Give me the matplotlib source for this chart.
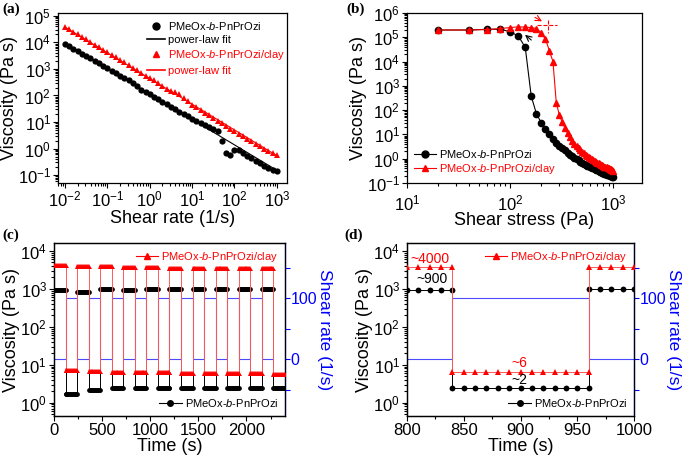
import numpy as np
import matplotlib
matplotlib.use("Agg")
import matplotlib.pyplot as plt
from matplotlib.lines import Line2D
from matplotlib.ticker import LogLocator, NullFormatter, MultipleLocator, FixedLocator

plt.rcParams['font.family'] = ['Liberation Sans', 'DejaVu Sans']
plt.rcParams['mathtext.fontset'] = 'custom'
plt.rcParams['mathtext.rm'] = 'Liberation Sans'
plt.rcParams['mathtext.it'] = 'Liberation Sans:italic'
plt.rcParams['mathtext.bf'] = 'Liberation Sans:bold'
plt.rcParams['axes.linewidth'] = 0.9

NAME = "PMeOx-$\\it{b}$-PnPrOzi"
NAME_CLAY = "PMeOx-$\\it{b}$-PnPrOzi/clay"

# (a) flow sweep, 10 points per decade, log10(viscosity)
rate_a = np.logspace(-2, 3, 51)
logvisc_a_blk = [3.96, 3.87, 3.77, 3.68, 3.58, 3.49, 3.40, 3.30, 3.21, 3.12,
                 3.02, 2.93, 2.84, 2.75, 2.67, 2.58, 2.47, 2.35, 2.22, 2.13,
                 2.04, 1.95, 1.86, 1.76, 1.67, 1.58, 1.48, 1.38, 1.32, 1.22,
                 1.12, 1.05, 0.98, 0.90, 0.80, 0.72, 0.66, 0.30, -0.15, -0.25,
                 -0.05, -0.06, -0.18, -0.28, -0.37, -0.47, -0.56, -0.64, -0.72, -0.80,
                 -0.86]
logvisc_a_red = [4.60, 4.50, 4.41, 4.31, 4.21, 4.12, 4.02, 3.92, 3.83, 3.73,
                 3.63, 3.54, 3.44, 3.34, 3.25, 3.15, 3.05, 2.95, 2.86, 2.75,
                 2.66, 2.57, 2.46, 2.37, 2.26, 2.17, 2.12, 2.05, 1.90, 1.78,
                 1.66, 1.55, 1.45, 1.35, 1.25, 1.15, 1.05, 0.95, 0.85, 0.75,
                 0.65, 0.56, 0.46, 0.37, 0.27, 0.18, 0.09, 0.00, -0.08, -0.17,
                 -0.25]
fit_rate = [0.01, 1000]
fit_blk = [9.5e3, 0.151]
fit_red = [3.8e4, 0.54]

# (b) stress sweep
stress_b = np.arange(20, 1001, 20)
logvisc_b_blk = [5.30, 5.30, 5.33, 5.33, 5.23, 5.05, 4.59, 2.58, 1.84, 1.49,
                 1.23, 1.01, 0.82, 0.66, 0.52, 0.43, 0.34, 0.25, 0.17, 0.10,
                 0.04, -0.02, -0.07, -0.12, -0.16, -0.20, -0.24, -0.28, -0.31, -0.34,
                 -0.37, -0.40, -0.43, -0.46, -0.48, -0.51, -0.53, -0.55, -0.57, -0.59,
                 -0.61, -0.63, -0.65, -0.67, -0.68, -0.70, -0.71, -0.73, -0.74, -0.75]
logvisc_b_red = [5.30, 5.30, 5.32, 5.36, 5.40, 5.43, 5.42, 5.40, 5.36, 5.18,
                 4.92, 4.45, 4.00, 2.30, 1.80, 1.50, 1.25, 1.05, 0.88, 0.74,
                 0.62, 0.52, 0.43, 0.35, 0.28, 0.22, 0.16, 0.11, 0.06, 0.02,
                 -0.02, -0.06, -0.10, -0.13, -0.16, -0.19, -0.22, -0.25, -0.27, -0.30,
                 -0.32, -0.34, -0.36, -0.38, -0.40, -0.42, -0.44, -0.46, -0.47, -0.49]

# (c)/(d) step test: 120 s blocks, alternating rest / 100 1/s, sampled every 10 s
block_start = np.arange(0, 2400, 120)
visc_red_block = [4300, 7.1, 4000, 6.7, 3900, 6.6, 3700, 6.4, 3700, 6.3,
                  3600, 6.2, 3600, 6.1, 3500, 6.0, 3500, 6.0, 3500, 5.8]
visc_blk_block = [930, 1.75, 850, 2.15, 980, 2.4, 960, 2.4, 1000, 2.45,
                  980, 2.4, 970, 2.4, 1020, 2.5, 1020, 2.45, 1000, 2.45]
shear_t = [0, 120, 240, 360, 480, 600, 720, 840, 960, 1080, 1200, 1320,
           1440, 1560, 1680, 1800, 1920, 2040, 2160, 2280]
shear_rate = [0, 100, 0, 100, 0, 100, 0, 100, 0, 100, 0, 100,
              0, 100, 0, 100, 0, 100, 0, 0]

t_step, red_step, blk_step = [], [], []
for t0, vr, vb in zip(block_start, visc_red_block, visc_blk_block):
    tt = t0 + np.arange(0, 121, 10)
    t_step.extend(tt)
    red_step.extend([vr] * len(tt))
    blk_step.extend([vb] * len(tt))

BLUE = '#4a4aff'

fig = plt.figure(figsize=(6.85, 4.58), dpi=100)


def log_ticks(ax, axis='y'):
    a = ax.yaxis if axis == 'y' else ax.xaxis
    a.set_major_locator(LogLocator(base=10, numticks=20))
    a.set_minor_locator(LogLocator(base=10, subs=np.arange(2, 10), numticks=20))
    a.set_minor_formatter(NullFormatter())


def style(ax):
    ax.tick_params(which='both', direction='out', labelsize=12, width=0.8,
                   top=False, right=False, pad=1.5)
    ax.tick_params(which='major', length=3.5)
    ax.tick_params(which='minor', length=2)


# ---------- (a)
ax = fig.add_axes([0.0847, 0.6004, 0.3343, 0.3712])
ax.set_xscale('log')
ax.set_yscale('log')
ax.plot(rate_a, 10 ** np.array(logvisc_a_blk), 'o', color='black', ms=4.5, mew=0)
ax.plot(fit_rate, fit_blk, '-', color='black', lw=0.8)
ax.plot(rate_a, 10 ** np.array(logvisc_a_red), '^', color='red', ms=5, mew=0)
ax.plot(fit_rate, fit_red, '-', color='red', lw=0.8)
ax.set_xlim(10 ** -2.165, 10 ** 3.24)
ax.set_ylim(10 ** -1.3, 10 ** 5.11)
log_ticks(ax, 'x')
log_ticks(ax, 'y')
style(ax)
ax.set_xlabel('Shear rate (1/s)', fontsize=13, labelpad=0)
ax.set_ylabel('Viscosity (Pa s)', fontsize=13, labelpad=0)
hs = [Line2D([], [], ls='none', marker='o', color='black', ms=5),
      Line2D([], [], color='black', lw=1.2),
      Line2D([], [], ls='none', marker='^', color='red', ms=5),
      Line2D([], [], color='red', lw=1.2)]
leg = ax.legend(hs, [NAME, 'power-law fit', NAME_CLAY, 'power-law fit'],
                loc='upper right', frameon=False, fontsize=8, handlelength=1.6,
                handletextpad=0.3, labelspacing=0.3, borderaxespad=0.2,
                bbox_to_anchor=(1.02, 1.0))
for txt, c in zip(leg.get_texts(), ['black', 'black', 'red', 'red']):
    txt.set_color(c)

# ---------- (b)
ax = fig.add_axes([0.5942, 0.6004, 0.3431, 0.3712])
ax.set_xscale('log')
ax.set_yscale('log')
ax.plot(stress_b, 10 ** np.array(logvisc_b_blk), '-o', color='black', ms=4.5, lw=0.8)
ax.plot(stress_b, 10 ** np.array(logvisc_b_red), '-^', color='red', ms=5, lw=0.8)
ax.plot([182, 283], [3.2e5, 3.2e5], '--', color='red', lw=0.8)
ax.plot([233, 233], [5.1e5, 1.5e5], '--', color='red', lw=0.8)
ax.annotate('', xy=(215, 4.0e5), xytext=(165, 7.5e5),
            arrowprops=dict(arrowstyle='->', color='red', lw=0.8))
ax.annotate('', xy=(133, 1.5e5), xytext=(168, 6.5e4),
            arrowprops=dict(arrowstyle='->', color='black', lw=0.8))
ax.set_xlim(10, 1900)
ax.set_ylim(0.1, 1e6)
log_ticks(ax, 'x')
log_ticks(ax, 'y')
style(ax)
ax.tick_params(axis='x', pad=4)
ax.set_xlabel('Shear stress (Pa)', fontsize=13, labelpad=-1)
ax.set_ylabel('Viscosity (Pa s)', fontsize=13, labelpad=0)
hs = [Line2D([], [], marker='o', color='black', ms=5, lw=0.8),
      Line2D([], [], marker='^', color='red', ms=5, lw=0.8)]
leg = ax.legend(hs, [NAME, NAME_CLAY], loc='lower left', frameon=False, fontsize=8,
                handlelength=2.0, handletextpad=0.3, labelspacing=0.2,
                borderaxespad=0.2)
for txt, c in zip(leg.get_texts(), ['black', 'red']):
    txt.set_color(c)


# ---------- (c) and (d)
def step_panel(rect, xlim, major, minor, ms_r, ms_b, notes):
    ax = fig.add_axes(rect)
    ax.set_yscale('log')
    ax.plot(t_step, blk_step, '-o', color='black', mfc='black', mec='black',
            ms=ms_b, lw=0.7, mew=0, zorder=3)
    ax.plot(t_step, red_step, '-^', color='#ff5a5a', mfc='red', mec='red',
            ms=ms_r, lw=0.7, mew=0, zorder=4)
    ax.set_xlim(*xlim)
    ax.set_ylim(10 ** -0.35, 10 ** 4.21)
    log_ticks(ax, 'y')
    ax.xaxis.set_major_locator(MultipleLocator(major))
    ax.xaxis.set_minor_locator(MultipleLocator(minor))
    style(ax)
    ax.set_xlabel('Time (s)', fontsize=13, labelpad=0)
    ax.set_ylabel('Viscosity (Pa s)', fontsize=13, labelpad=0)
    for x, y, s, c in notes:
        ax.text(x, y, s, color=c, fontsize=10, ha='center', va='center', zorder=5)

    ax2 = ax.twinx()
    ax2.plot(shear_t, shear_rate, color=BLUE, lw=0.8, drawstyle='steps-post', zorder=1)
    ax2.set_ylim(-93, 191)
    ax2.yaxis.set_major_locator(FixedLocator([0, 100]))
    ax2.yaxis.set_minor_locator(FixedLocator([-50, 50, 150]))
    ax2.tick_params(which='both', direction='out', labelsize=11.5, colors='blue',
                    width=0.8, length=3.5, pad=0.5)
    ax2.spines['right'].set_color('blue')
    ax2.set_ylabel('Shear rate (1/s)', fontsize=12.5, color='blue', rotation=270,
                   labelpad=0, va='bottom')
    ax.set_zorder(ax2.get_zorder() + 1)
    ax.patch.set_visible(False)

    h1 = [Line2D([], [], marker='^', color='red', ms=4, lw=0.8)]
    l1 = ax.legend(h1, [NAME_CLAY], loc='upper right', frameon=False, fontsize=8,
                   handlelength=2.0, handletextpad=0.3, borderaxespad=0.2)
    l1.get_texts()[0].set_color('red')
    ax.add_artist(l1)
    h2 = [Line2D([], [], marker='o', color='black', ms=4, lw=0.8)]
    ax.legend(h2, [NAME], loc='lower right', frameon=False, fontsize=8,
              handlelength=2.0, handletextpad=0.3, borderaxespad=0.2)
    return ax


step_panel([0.0788, 0.0917, 0.3372, 0.3777], (0, 2400), 500, 250, 3.6, 3.4, [])
step_panel([0.5942, 0.0917, 0.3314, 0.3777], (800, 1000), 50, 25, 4.4, 4.2,
           [(820, 10 ** 3.80, '~4000', 'red'), (822, 10 ** 3.25, '~900', 'black'),
            (899, 10 ** 1.05, '~6', 'red'), (899, 10 ** 0.61, '~2', 'black')])

for x, y, s in [(0.003, 0.995, '(a)'), (0.506, 0.995, '(b)'),
                (0.003, 0.502, '(c)'), (0.503, 0.502, '(d)')]:
    fig.text(x, y, s, fontsize=11, fontweight='bold', family='Liberation Serif',
             ha='left', va='top')

fig.savefig('out.png', dpi=100)
